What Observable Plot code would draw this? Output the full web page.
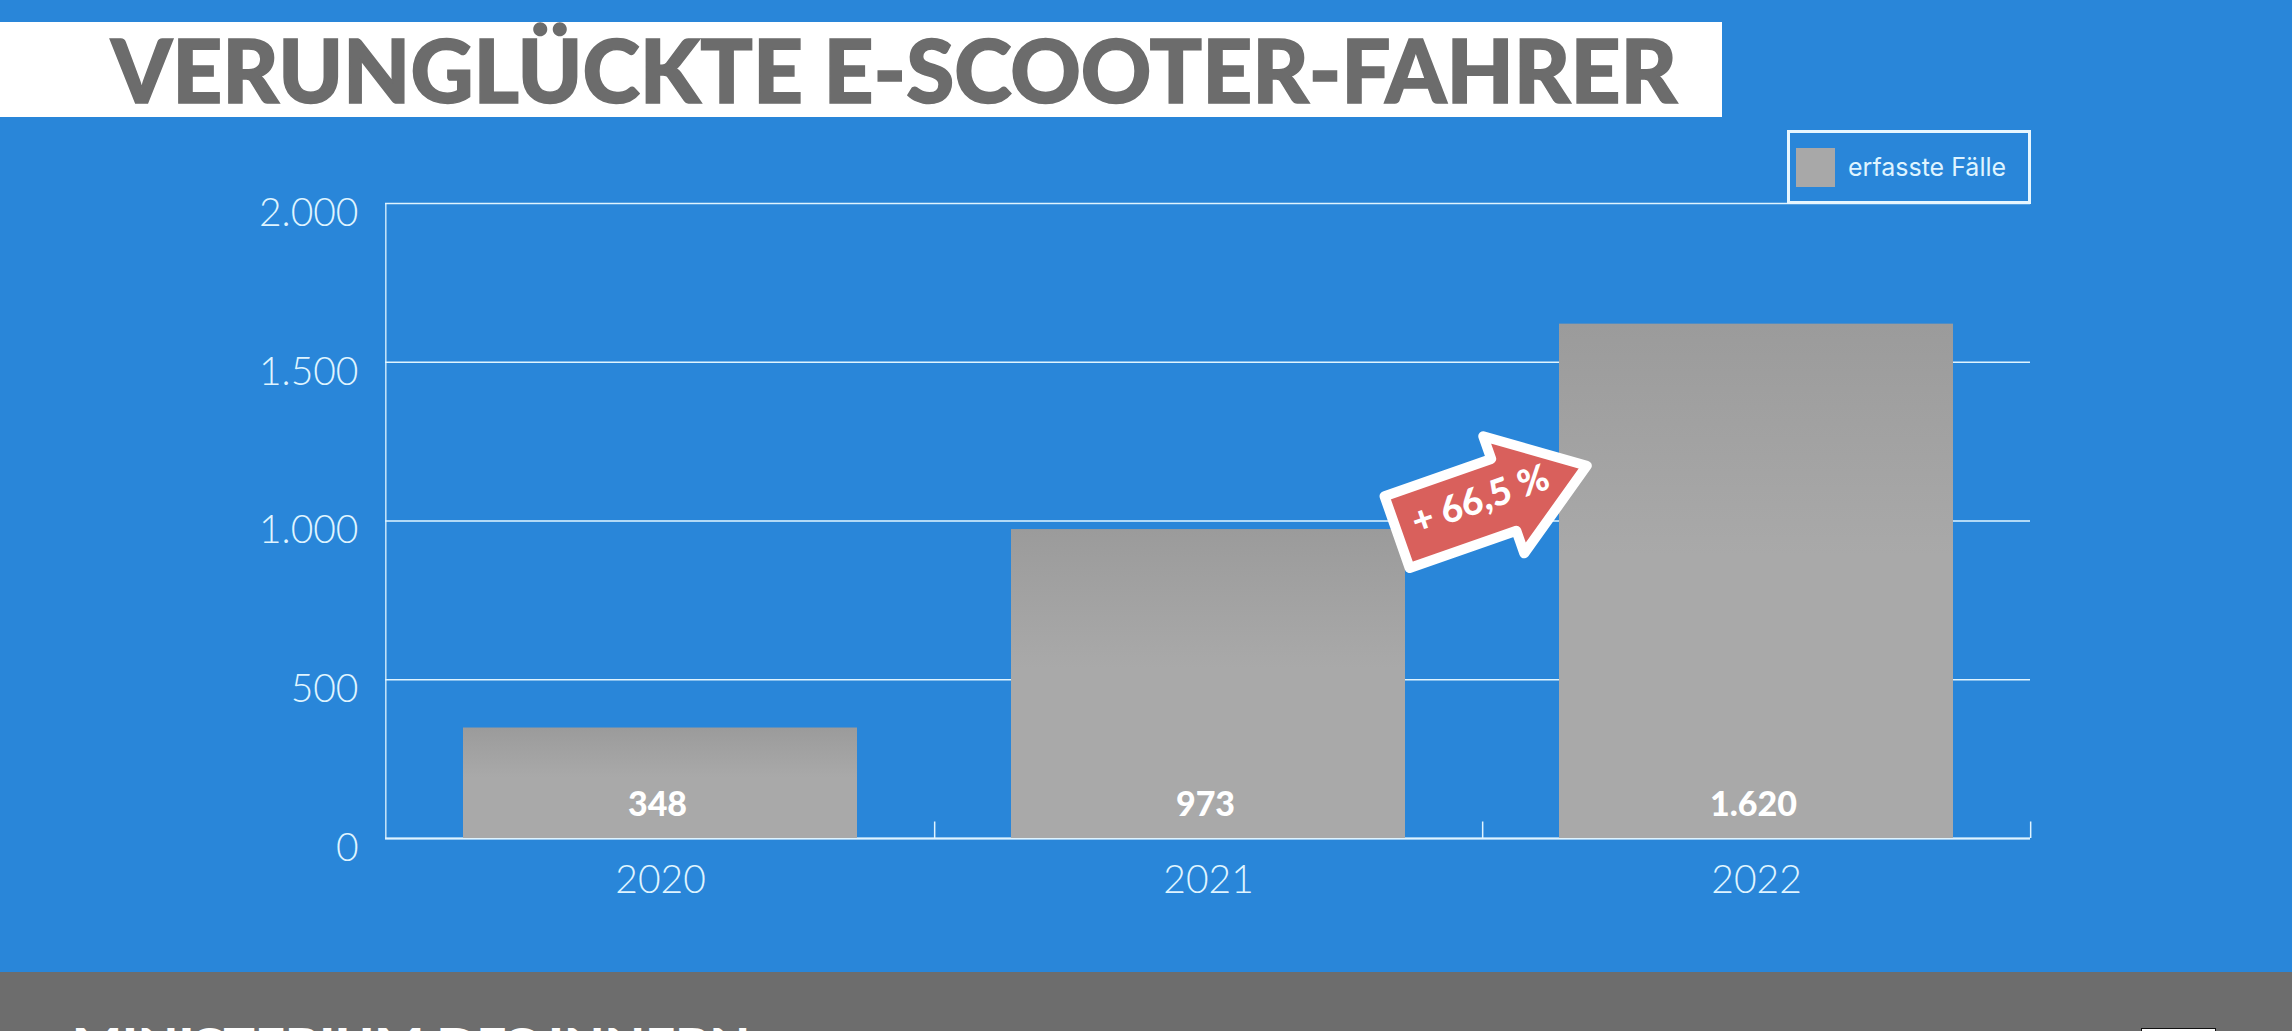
<!DOCTYPE html>
<html lang="de"><head><meta charset="utf-8">
<script src="https://cdn.jsdelivr.net/npm/d3@7"></script>
<script src="https://cdn.jsdelivr.net/npm/@observablehq/plot@0.6"></script>
<style>
html,body{margin:0;padding:0;width:2292px;height:1031px;overflow:hidden;background:#2986d9;}
#page{position:relative;width:2292px;height:1031px;overflow:hidden;}
#title{position:absolute;left:0;top:22px;width:1722px;height:95px;background:#fff;color:#6c6c6c;
 font:900 88px Lato,sans-serif;line-height:95px;white-space:nowrap;}
#title span{position:absolute;left:111px;top:0;transform-origin:0 50%;-webkit-text-stroke:1.5px #6c6c6c;}
#legend{position:absolute;left:1787px;top:130px;width:238px;height:68px;border:3px solid #e6f6ff;}
#legend i{position:absolute;left:6px;top:15px;width:39px;height:39px;background:#a8a8a8;}
#legend b{position:absolute;left:58px;top:0;font:400 25px Inter,sans-serif;line-height:68px;color:#dff4ff;white-space:nowrap;}
#chart{position:absolute;left:0;top:117px;}
#footer{position:absolute;left:0;top:972px;width:2292px;height:59px;background:#6d6d6d;overflow:hidden;}
#footer span{position:absolute;left:72px;top:50px;font:900 36px/1 Lato,sans-serif;color:#fff;white-space:nowrap;transform-origin:0 50%;}
#footer i{position:absolute;left:2141px;top:56px;width:73px;height:20px;background:#fff;border:1px solid #111;}
svg text{font-family:Lato,sans-serif;}
</style></head><body>
<div id="page">
 <div id="title"><span>VERUNGLÜCKTE E-SCOOTER-FAHRER</span></div>
 <div id="chart"></div>
 <div id="legend"><i></i><b>erfasste Fälle</b></div>
 <div id="footer"><span>MINISTERIUM DES INNERN</span><i></i></div>
</div>
<script>
const years = ["2020","2021","2022"];
const cases = [348,973,1620];
const valueLabels = ["348","973","1.620"];
const yTicks = [0,500,1000,1500,2000];
const yTickLabels = ["0","500","1.000","1.500","2.000"];
const changeLabel = "+ 66,5 %";
const changeAnchorYear = "2021";
const changeAnchorValue = 1069;

const ink = "#dff4ff";
const rows = years.map((year,i)=>({year,value:cases[i],label:valueLabels[i]}));
const tickRows = yTicks.map((v,i)=>({v,label:yTickLabels[i]}));

const arrowSymbol = {draw(c){
  c.moveTo(-100,-38);c.lineTo(13,-38);c.lineTo(13,-62);c.lineTo(101,0);
  c.lineTo(13,62);c.lineTo(13,38);c.lineTo(-100,38);c.closePath();
}};
const defs = () => {
  const s = d3.create("svg:defs");
  const g = s.append("linearGradient").attr("id","barFill").attr("x1",0).attr("x2",0).attr("y1",0).attr("y2",1);
  g.append("stop").attr("offset","0%").attr("stop-color","#9b9b9b");
  g.append("stop").attr("offset","45%").attr("stop-color","#a9a9a9");
  g.append("stop").attr("offset","100%").attr("stop-color","#a9a9a9");
  return s.node();
};

const step = 1645/3;
const chart = Plot.plot({
  width:2292,height:855,
  marginLeft:385,marginRight:262,marginTop:86,marginBottom:134,
  style:{background:"transparent",overflow:"visible"},
  x:{domain:years,padding:0,axis:null},
  y:{domain:[0,2000],axis:null},
  marks:[
    defs,
    Plot.gridY(yTicks,{stroke:ink,strokeOpacity:1,strokeWidth:1.3}),
    Plot.ruleX([years[0]],{x:d=>d,dx:-step/2-0.5,y1:0,y2:2000,stroke:ink,strokeWidth:1.3}),
    Plot.ruleX(years,{x:d=>d,dx:step/2,y1:0,y2:52,stroke:ink,strokeWidth:1.5}),
    Plot.ruleY([0],{stroke:ink,strokeWidth:2}),
    Plot.barY(rows,{x:"year",y:"value",fill:"url(#barFill)",insetLeft:77,insetRight:77}),
    Plot.text(rows,{x:"year",y:()=>0,text:"label",dx:-3,dy:-33,fill:"#fff",fontSize:34,fontWeight:900}),
    Plot.text(tickRows,{frameAnchor:"left",y:"v",text:"label",dx:-27,dy:10,textAnchor:"end",fill:ink,fontSize:39,fontWeight:300}),
    Plot.text(years,{x:d=>d,frameAnchor:"bottom",text:d=>d,dy:54,fill:ink,fontSize:39,fontWeight:300}),
    Plot.dot([changeAnchorYear],{x:d=>d,y:()=>changeAnchorValue,dx:283,symbol:arrowSymbol,r:10,rotate:-19.3,
      fill:"#d9605c",stroke:"#fff",strokeWidth:10,strokeLinejoin:"round"}),
    Plot.text([changeLabel],{x:()=>changeAnchorYear,y:()=>changeAnchorValue,dx:272,dy:1,text:d=>d,rotate:-19.3,
      fill:"#fff",fontSize:37,fontWeight:900})
  ]
});
document.getElementById("chart").append(chart);
const fit=(sel,w)=>{const el=document.querySelector(sel);el.style.transform=`scaleX(${w/el.getBoundingClientRect().width})`;};
fit("#title span",1566);
fit("#footer span",678);
</script>
</body></html>
